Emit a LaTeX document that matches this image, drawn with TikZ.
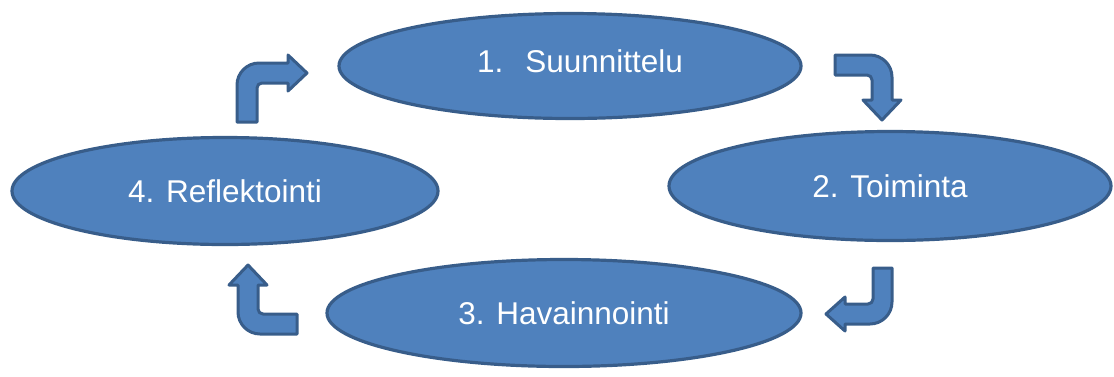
\documentclass[tikz,border=0pt]{standalone}
\usepackage{fontspec}
\setmainfont{Liberation Sans}
\usetikzlibrary{shapes.geometric}
\definecolor{fillblue}{HTML}{4F81BD}
\definecolor{edgeblue}{HTML}{385D8A}
\begin{document}
\begin{tikzpicture}[x=1pt,y=-1pt,
  ell/.style={ellipse, draw=edgeblue, fill=fillblue, line width=3.2pt, inner sep=0pt, text=white,
    font=\fontsize{31.5}{36}\selectfont},
  lab/.style={text=white, inner sep=0pt, font=\fontsize{31.5}{36}\selectfont},
  bent/.style={draw=edgeblue, fill=fillblue, line width=3pt, line join=round}]
\useasboundingbox (0,0) rectangle (1114,376);
% ellipses
\node[ell, minimum width=462pt, minimum height=105pt] (n1) at (570,66) {};
\node[lab] (t1) at ([xshift=10pt,yshift=5pt]n1.center) {1.\hspace{22pt}Suunnittelu};
\node[ell, minimum width=442pt, minimum height=109pt] (n2) at (890,186) {2. Toiminta};
\node[ell, minimum width=474pt, minimum height=107pt] (n3) at (564,313) {3. Havainnointi};
\node[ell, minimum width=426pt, minimum height=107pt] (n4) at (225,191) {4. Reflektointi};
% bent arrows
\draw[bent] (237,122) -- (237,85) .. controls (237,72.9) and (246.9,63) .. (259,63)
  -- (288,63) -- (288,55) -- (307,73) -- (288,91) -- (288,83) -- (262,83)
  .. controls (259.2,83) and (257,85.2) .. (257,88) -- (257,122) -- cycle;
\draw[bent] (835,55) -- (870,55) .. controls (882.1,55) and (892,64.9) .. (892,77)
  -- (892,100) -- (901,100) -- (882,120) -- (863,100) -- (872,100) -- (872,80)
  .. controls (872,77.2) and (869.8,75) .. (867,75) -- (835,75) -- cycle;
\draw[bent] (873,268) -- (892,268) -- (892,302) .. controls (892,314.1) and (882.1,324) .. (870,324)
  -- (845,324) -- (845,331) -- (826,314) -- (845,297) -- (845,304) -- (868,304)
  .. controls (870.8,304) and (873,301.8) .. (873,299) -- cycle;
\draw[bent] (297,334) -- (260,334) .. controls (247.9,334) and (238,324.1) .. (238,312)
  -- (238,285) -- (229,285) -- (248,265) -- (267,285) -- (258,285) -- (258,309)
  .. controls (258,311.8) and (260.2,314) .. (263,314) -- (297,314) -- cycle;
\end{tikzpicture}
\end{document}
